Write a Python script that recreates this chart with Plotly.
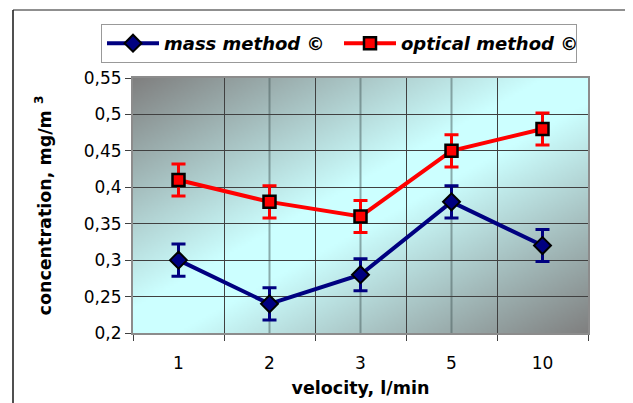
import zlib
import struct
import base64
import plotly.graph_objects as go

# velocity categories (l/min)
velocity = ["1", "2", "3", "5", "10"]

# concentration, mg/m3
mass_method = [0.30, 0.24, 0.28, 0.38, 0.32]
optical_method = [0.41, 0.38, 0.36, 0.45, 0.48]
error_value = 0.022

y_ticks = [0.2, 0.25, 0.3, 0.35, 0.4, 0.45, 0.5, 0.55]

# page body has an 8px margin, so the figure is sized to fit the window
OFF = 8
W, H = 633 - OFF, 403 - OFF
L, R, T, B = 133 - OFF, 45, 78 - OFF, 70
PW, PH = W - L - R, H - T - B

FONT = "DejaVu Sans, Liberation Sans, Arial, sans-serif"


def gradient_png(w, h):
    # excel-like diagonal fill: gray corners, light cyan along the diagonal
    gray = (128, 128, 128)
    cyan = (204, 255, 255)
    rows = []
    for j in range(h):
        v = 1 - j / (h - 1)
        row = bytearray([0])
        for i in range(w):
            u = i / (w - 1)
            t = abs(u - v)
            t = max(0.0, (t - 0.1) / 0.9)
            row += bytes(int(round(c + (g - c) * t)) for c, g in zip(cyan, gray))
        rows.append(bytes(row))
    raw = b"".join(rows)

    def chunk(tag, data):
        return struct.pack(">I", len(data)) + tag + data + struct.pack(">I", zlib.crc32(tag + data) & 0xffffffff)

    png = (b"\x89PNG\r\n\x1a\n"
           + chunk(b"IHDR", struct.pack(">IIBBBBB", w, h, 8, 2, 0, 0, 0))
           + chunk(b"IDAT", zlib.compress(raw, 9))
           + chunk(b"IEND", b""))
    return "data:image/png;base64," + base64.b64encode(png).decode()


fig = go.Figure()

fig.add_trace(go.Scatter(
    x=velocity, y=mass_method, name="mass method ©",
    mode="lines+markers",
    line=dict(color="#000080", width=4),
    marker=dict(symbol="diamond", size=13, color="#000080", line=dict(color="black", width=2)),
    error_y=dict(type="constant", value=error_value, color="#000080", thickness=3, width=7),
))
fig.add_trace(go.Scatter(
    x=velocity, y=optical_method, name="optical method ©",
    mode="lines+markers",
    line=dict(color="#ff0000", width=4),
    marker=dict(symbol="square", size=12, color="#ff0000", line=dict(color="black", width=2.5)),
    error_y=dict(type="constant", value=error_value, color="#ff0000", thickness=3, width=7),
))

# gridlines through category centres
shapes = [
    dict(type="line", xref="x", yref="paper", x0=v, x1=v, y0=0, y1=1, layer="below",
         line=dict(color="rgba(70,90,90,0.5)", width=2))
    for v in velocity
]
# outer chart frame (left and top edges)
fx = (13 - OFF - L) / PW
fy = 1 + (T - (10 - OFF)) / PH
shapes.append(dict(type="line", xref="paper", yref="paper", x0=fx, x1=fx, y0=-0.5, y1=fy,
                   line=dict(color="#505050", width=2)))
shapes.append(dict(type="line", xref="paper", yref="paper", x0=fx, x1=1.5, y0=fy, y1=fy,
                   line=dict(color="#202020", width=1)))

fig.update_layout(
    width=W, height=H, autosize=False,
    margin=dict(l=L, r=R, t=T, b=B),
    paper_bgcolor="white",
    plot_bgcolor="#ccffff",
    separators=", ",
    font=dict(family=FONT, size=17, color="black"),
    showlegend=True,
    legend=dict(
        orientation="h", x=(101 - OFF - L) / PW, xanchor="left",
        y=1 + (T - (24 - OFF)) / PH, yanchor="top",
        bordercolor="#999999", borderwidth=1, bgcolor="white",
        font=dict(family=FONT, size=18, color="black", weight="bold", style="italic"),
        entrywidth=170, itemwidth=52,
    ),
    images=[dict(source=gradient_png(228, 128), xref="paper", yref="paper",
                 x=0, y=1, sizex=1, sizey=1, xanchor="left", yanchor="top",
                 sizing="stretch", layer="below")],
    shapes=shapes,
    xaxis=dict(
        type="category", categoryorder="array", categoryarray=velocity,
        range=[-0.5, len(velocity) - 0.5], automargin=False,
        tickson="boundaries", ticks="outside", ticklen=6, tickcolor="#404040",
        ticklabelstandoff=14,
        showgrid=True, gridcolor="#404040", gridwidth=1,
        showline=True, linecolor="#8c8c8c", linewidth=2, mirror=True,
        title=dict(text="<b>velocity, l/min</b>", font=dict(size=17.5), standoff=9),
        tickfont=dict(size=17),
    ),
    yaxis=dict(
        range=[y_ticks[0], y_ticks[-1]], tickvals=y_ticks, automargin=False,
        ticks="outside", ticklen=6, tickcolor="#404040",
        showgrid=True, gridcolor="#404040", gridwidth=1, zeroline=False,
        showline=True, linecolor="#8c8c8c", linewidth=2, mirror=True,
        title=dict(text="<b>concentration, mg/m <sup>3</sup></b>", font=dict(size=17.5), standoff=28),
        tickfont=dict(size=17),
    ),
)

fig.write_html("out.html")
